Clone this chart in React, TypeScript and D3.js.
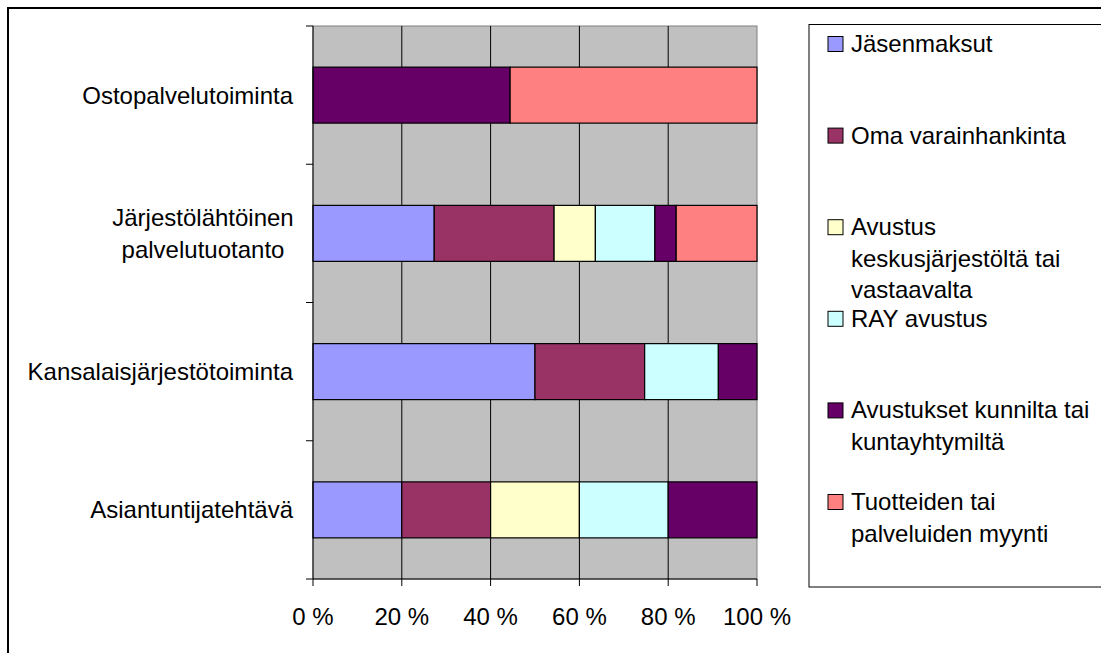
import React from "react";
import * as d3 from "d3";

const categories = [
  "Ostopalvelutoiminta",
  "Järjestölähtöinen palvelutuotanto",
  "Kansalaisjärjestötoiminta",
  "Asiantuntijatehtävä",
];
const categoryLines: string[][] = [
  ["Ostopalvelutoiminta"],
  ["Järjestölähtöinen", "palvelutuotanto"],
  ["Kansalaisjärjestötoiminta"],
  ["Asiantuntijatehtävä"],
];

const seriesNames = [
  "Jäsenmaksut",
  "Oma varainhankinta",
  "Avustus keskusjärjestöltä tai vastaavalta",
  "RAY avustus",
  "Avustukset kunnilta tai kuntayhtymiltä",
  "Tuotteiden tai palveluiden myynti",
];
const legendLines: string[][] = [
  ["Jäsenmaksut"],
  ["Oma varainhankinta"],
  ["Avustus", "keskusjärjestöltä tai", "vastaavalta"],
  ["RAY avustus"],
  ["Avustukset kunnilta tai", "kuntayhtymiltä"],
  ["Tuotteiden tai", "palveluiden myynti"],
];
const seriesColors = ["#9999FF", "#993366", "#FFFFCC", "#CCFFFF", "#660066", "#FF8080"];

// values per category (order: Ostopalvelu, Järjestölähtöinen, Kansalais, Asiantuntija)
const jasenmaksut = [0, 27.3, 50, 20];
const omaVarainhankinta = [0, 27.0, 24.7, 20];
const avustusKeskus = [0, 9.3, 0, 20];
const rayAvustus = [0, 13.4, 16.6, 20];
const avustuksetKunnilta = [44.4, 4.8, 8.7, 20];
const myynti = [55.6, 18.2, 0, 0];

const xTicks = [0, 0.2, 0.4, 0.6, 0.8, 1];
const xTickLabels = ["0 %", "20 %", "40 %", "60 %", "80 %", "100 %"];

const FONT = "'Liberation Sans', Arial, sans-serif";
const FS = 24;

export default function App() {
  const allSeries = [jasenmaksut, omaVarainhankinta, avustusKeskus, rayAvustus, avustuksetKunnilta, myynti];
  const rows = categories.map((c, i) => {
    const r: any = { cat: c };
    seriesNames.forEach((s, j) => (r[s] = allSeries[j][i]));
    return r;
  });
  const stacked = d3.stack<any>().keys(seriesNames).offset(d3.stackOffsetExpand)(rows);

  const left = 313, right = 757, top = 26, bottom = 579;
  const x = d3.scaleLinear().domain([0, 1]).range([left, right]);
  const y = d3.scaleBand().domain(categories).range([top, bottom]).padding(0);
  const bw = y.bandwidth();
  const barH = bw * 0.405;

  const legendX = 809, legendTop = 24.5, legendBottom = 587;
  const legendBase0 = 52, legendStep = 91.6, lineH = 31.5;

  return (
    <svg width={1101} height={653} style={{ position: "absolute", left: 0, top: 0 }} fontFamily={FONT}>
      <rect x={0} y={0} width={1101} height={653} fill="#fff" />
      <rect x={8} y={8} width={1200} height={800} fill="none" stroke="#000" strokeWidth={2} />
      {/* plot area */}
      <rect x={left} y={top} width={right - left} height={bottom - top} fill="#C0C0C0" stroke="#808080" strokeWidth={1} />
      {xTicks.slice(1, -1).map((t) => (
        <line key={t} x1={x(t)} x2={x(t)} y1={top} y2={bottom} stroke="#000" strokeWidth={1} />
      ))}
      {/* bars */}
      {stacked.map((s, j) =>
        s.map((d, i) => {
          if (d[1] - d[0] <= 0) return null;
          const cat = categories[i];
          const yy = (y(cat) as number) + (bw - barH) / 2;
          return (
            <rect
              key={j + "-" + i}
              x={x(d[0])}
              y={yy}
              width={x(d[1]) - x(d[0])}
              height={barH}
              fill={seriesColors[j]}
              stroke="#000"
              strokeWidth={1.2}
            />
          );
        })
      )}
      {/* axes */}
      <line x1={left} x2={left} y1={top} y2={bottom} stroke="#000" strokeWidth={1} />
      <line x1={left - 7} x2={right} y1={bottom} y2={bottom} stroke="#000" strokeWidth={1} />
      {categories.map((c, i) => (
        <line key={"yt" + i} x1={left - 7} x2={left} y1={y(c) as number} y2={y(c) as number} stroke="#000" />
      ))}
      {xTicks.map((t) => (
        <line key={"xt" + t} x1={x(t)} x2={x(t)} y1={bottom} y2={bottom + 7} stroke="#000" />
      ))}
      {xTicks.map((t, i) => (
        <text key={"xl" + t} x={x(t)} y={625} textAnchor="middle" fontSize={FS} fill="#000">
          {xTickLabels[i]}
        </text>
      ))}
      {/* category labels */}
      {categories.map((c, i) => {
        const lines = categoryLines[i];
        const cy = (y(c) as number) + bw / 2;
        const n = lines.length;
        const widths = lines.map((l) => l.length);
        const multi = n > 1;
        return (
          <text
            key={"cl" + i}
            fontSize={FS}
            fill="#000"
            textAnchor={multi ? "middle" : "end"}
          >
            {lines.map((l, k) => (
              <tspan
                key={k}
                x={multi ? 203 : 293}
                y={cy + 8.5 + (k - (n - 1) / 2) * 32}
              >
                {l}
              </tspan>
            ))}
          </text>
        );
      })}
      {/* legend */}
      <rect x={legendX} y={legendTop} width={400} height={legendBottom - legendTop} fill="#fff" stroke="#000" strokeWidth={1} />
      {seriesNames.map((s, j) => {
        const base = legendBase0 + j * legendStep;
        return (
          <g key={"lg" + j}>
            <rect x={828} y={base - 15.5} width={15} height={15} fill={seriesColors[j]} stroke="#000" strokeWidth={1} />
            <text fontSize={FS} fill="#000">
              {legendLines[j].map((l, k) => (
                <tspan key={k} x={851} y={base + k * lineH}>
                  {l}
                </tspan>
              ))}
            </text>
          </g>
        );
      })}
    </svg>
  );
}
